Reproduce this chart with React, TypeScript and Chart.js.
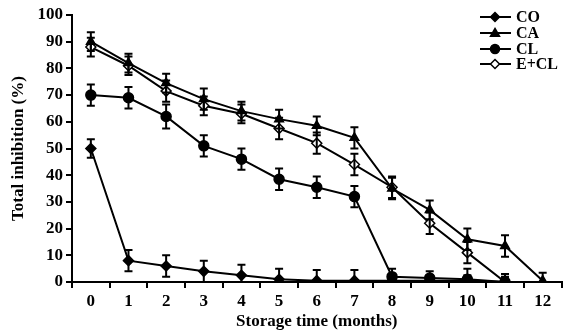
import React, { useEffect, useRef } from "react";
import { Chart, registerables } from "chart.js";
Chart.register(...registerables);

const months = ["0", "1", "2", "3", "4", "5", "6", "7", "8", "9", "10", "11", "12"];
const yTicks = [0, 10, 20, 30, 40, 50, 60, 70, 80, 90, 100];

const coMean = [50, 8, 6, 4, 2.5, 1, 0.5, 0.5, 0.5, 0.5, 0.5, 0];
const coErr = [3.5, 4, 4, 4, 4, 4, 4, 4, 2, 2, 2, 1.5];
const caMean = [90, 82, 74.5, 68.5, 64, 61, 58.5, 54, 35, 27, 16, 13.5, 0.5];
const caErr = [3.5, 3.5, 3.5, 4, 3.5, 3.5, 3.5, 4, 4, 3.5, 4, 4, 3];
const clMean = [70, 69, 62, 51, 46, 38.5, 35.5, 32, 2, 1.5, 1, 0];
const clErr = [4, 4, 4.5, 4, 4, 4, 4, 4, 3, 2.5, 4, 2];
const eclMean = [88, 81, 71.5, 66, 63, 57.5, 52, 44, 35.5, 22, 11, 0];
const eclErr = [3.5, 3.5, 4, 3.5, 3.5, 4, 4, 4, 4, 4, 4, 3];

const FONT = "'Liberation Serif', 'DejaVu Serif', serif";

const errorBarPlugin = {
  id: "errorBars",
  afterDatasetsDraw(chart: any) {
    const ctx = chart.ctx;
    const y = chart.scales.y;
    ctx.save();
    ctx.strokeStyle = "#000";
    ctx.lineWidth = 2;
    chart.data.datasets.forEach((ds: any, i: number) => {
      const meta = chart.getDatasetMeta(i);
      meta.data.forEach((pt: any, j: number) => {
        const e = ds.errors[j];
        const v = ds.data[j];
        if (e == null || v == null) return;
        const top = y.getPixelForValue(v + e);
        const bot = y.getPixelForValue(Math.max(0, v - e));
        const x = pt.x;
        ctx.beginPath();
        ctx.moveTo(x, top);
        ctx.lineTo(x, bot);
        ctx.moveTo(x - 4, top);
        ctx.lineTo(x + 4, top);
        if (v - e > 0) {
          ctx.moveTo(x - 4, bot);
          ctx.lineTo(x + 4, bot);
        }
        ctx.stroke();
      });
    });
    ctx.restore();
  },
};

const legendPlugin = {
  id: "customLegend",
  afterDraw(chart: any) {
    const ctx = chart.ctx;
    ctx.save();
    const x0 = 480;
    const ys = [17, 33, 49, 64];
    chart.data.datasets.forEach((ds: any, i: number) => {
      const yy = ys[i];
      ctx.strokeStyle = "#000";
      ctx.lineWidth = 2;
      ctx.beginPath();
      ctx.moveTo(x0, yy);
      ctx.lineTo(x0 + 31, yy);
      ctx.stroke();
      const cx = x0 + 15;
      ctx.fillStyle = ds.pointBackgroundColor;
      ctx.lineWidth = 1.5;
      ctx.beginPath();
      const r = 4.5;
      if (ds.pointStyle === "rectRot") {
        ctx.moveTo(cx, yy - r);
        ctx.lineTo(cx + r, yy);
        ctx.lineTo(cx, yy + r);
        ctx.lineTo(cx - r, yy);
        ctx.closePath();
      } else if (ds.pointStyle === "triangle") {
        ctx.moveTo(cx, yy - r);
        ctx.lineTo(cx + r, yy + r * 0.7);
        ctx.lineTo(cx - r, yy + r * 0.7);
        ctx.closePath();
      } else {
        ctx.arc(cx, yy, r, 0, Math.PI * 2);
      }
      ctx.fill();
      ctx.stroke();
      ctx.fillStyle = "#000";
      ctx.font = `bold 16px ${FONT}`;
      ctx.textBaseline = "middle";
      ctx.textAlign = "left";
      ctx.fillText(ds.label, x0 + 36, yy + 1);
    });
    ctx.restore();
  },
};

export default function App() {
  const ref = useRef<HTMLCanvasElement>(null);
  useEffect(() => {
    document.body.style.margin = "0";
    const mk = (label: string, data: number[], errors: number[], style: string, fill: string) => ({
      label,
      data,
      errors,
      borderColor: "#000",
      borderWidth: 2,
      pointStyle: style,
      pointRadius: 5,
      pointBackgroundColor: fill,
      pointBorderColor: "#000",
      pointBorderWidth: 1.5,
      tension: 0,
      fill: false,
    });
    const chart = new Chart(ref.current!, {
      type: "line",
      data: {
        labels: months,
        datasets: [
          mk("CO", coMean, coErr, "rectRot", "#000"),
          mk("CA", caMean, caErr, "triangle", "#000"),
          mk("CL", clMean, clErr, "circle", "#000"),
          mk("E+CL", eclMean, eclErr, "rectRot", "#fff"),
        ] as any,
      },
      options: {
        animation: false,
        responsive: false,
        layout: { padding: { top: 15, right: 2, left: 0, bottom: 0 } },
        plugins: { legend: { display: false }, tooltip: { enabled: false } },
        scales: {
          x: {
            type: "category",
            offset: true,
            grid: {
              offset: true,
              drawOnChartArea: false,
              drawTicks: true,
              tickLength: 6,
              color: "#000",
              lineWidth: 2,
            },
            border: { display: true, color: "#000", width: 2 },
            ticks: { color: "#000", font: { family: FONT, size: 17, weight: "bold" }, padding: 3, maxRotation: 0 },
            title: {
              display: true,
              text: "Storage time (months)",
              color: "#000",
              font: { family: FONT, size: 17, weight: "bold" },
              padding: { top: 0, bottom: 3 },
            },
            afterFit(s: any) {
              s.height = 53;
            },
          },
          y: {
            min: 0,
            max: 100,
            afterBuildTicks(s: any) {
              s.ticks = yTicks.map((v) => ({ value: v }));
            },
            grid: { drawOnChartArea: false, tickLength: 6, color: "#000", lineWidth: 2 },
            border: { display: true, color: "#000", width: 2 },
            ticks: { color: "#000", font: { family: FONT, size: 17, weight: "bold" }, padding: 3 },
            title: {
              display: true,
              text: "Total inhibition (%)",
              color: "#000",
              font: { family: FONT, size: 17, weight: "bold" },
              padding: { top: 8, bottom: 0 },
            },
            afterFit(s: any) {
              s.width = 72;
            },
          },
        },
      },
      plugins: [errorBarPlugin, legendPlugin],
    } as any);
    return () => chart.destroy();
  }, []);
  return (
    <div style={{ width: 568, height: 335 }}>
      <canvas ref={ref} width={568} height={335} style={{ display: "block", background: "#fff" }} />
    </div>
  );
}
